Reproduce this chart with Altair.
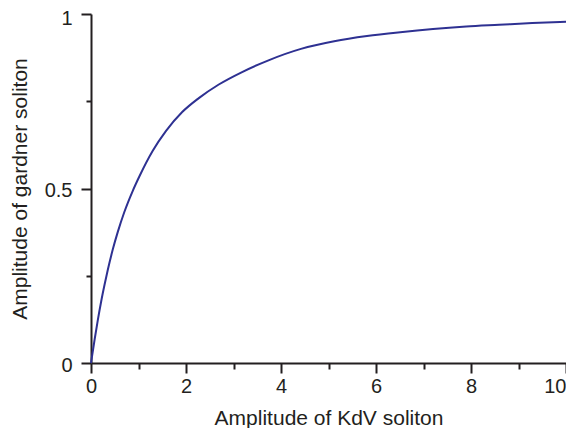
import altair as alt
import pandas as pd

kdv_amp = [0, 0.077, 0.146, 0.215, 0.285, 0.354, 0.458, 0.5625, 0.70, 0.875,
           1.02, 1.30, 1.58, 1.92, 2.27, 2.69, 3.17, 3.75, 4.42, 5.12, 5.81,
           6.51, 7.20, 7.90, 8.59, 9.29, 10]
gardner_amp = [0, 0.068, 0.125, 0.177, 0.224, 0.267, 0.325, 0.375, 0.432, 0.492,
               0.535, 0.608, 0.665, 0.719, 0.759, 0.798, 0.833, 0.868, 0.900,
               0.922, 0.937, 0.948, 0.957, 0.964, 0.969, 0.974, 0.978]
x_ticks = [0, 1, 2, 3, 4, 5, 6, 7, 8, 9, 10]
y_ticks = [0, 0.25, 0.5, 0.75, 1]

df = pd.DataFrame({"x": kdv_amp, "y": gardner_amp})

FONT = "Liberation Sans"
INK = "#231f20"

x_axis = alt.Axis(
    values=x_ticks,
    title="Amplitude of KdV soliton",
    grid=False,
    domainColor=INK,
    domainWidth=2,
    tickColor=INK,
    tickWidth=2,
    tickSize={"condition": {"test": "datum.value % 2 === 0", "value": 10}, "value": 6},
    labelExpr="datum.value % 2 === 0 ? format(datum.value, '~g') : ''",
    labelAlign={"condition": {"test": "datum.value === 10", "value": "right"}, "value": "center"},
    labelFont=FONT,
    labelFontSize=20,
    labelColor=INK,
    labelPadding=3,
    labelFlush=False,
    titleFont=FONT,
    titleFontSize=21,
    titleFontWeight="normal",
    titleColor=INK,
    titlePadding=11,
)

y_axis = alt.Axis(
    values=y_ticks,
    title="Amplitude of gardner soliton",
    grid=False,
    domainColor=INK,
    domainWidth=2,
    tickColor=INK,
    tickWidth=2,
    tickSize={"condition": {"test": "(datum.value * 4) % 2 === 0", "value": 10}, "value": 5},
    labelExpr="(datum.value * 4) % 2 === 0 ? format(datum.value, '~g') : ''",
    labelOffset={"condition": {"test": "datum.value === 1", "value": 4}, "value": 2},
    labelFont=FONT,
    labelFontSize=20,
    labelColor=INK,
    labelPadding=9,
    labelFlush=False,
    titleFont=FONT,
    titleFontSize=21,
    titleFontWeight="normal",
    titleColor=INK,
    titlePadding=14,
)

chart = (
    alt.Chart(df)
    .mark_line(color="#2e3192", strokeWidth=2, interpolate="monotone")
    .encode(
        x=alt.X("x:Q", scale=alt.Scale(domain=[0, 10], nice=False, zero=False), axis=x_axis),
        y=alt.Y("y:Q", scale=alt.Scale(domain=[0, 1], nice=False), axis=y_axis),
    )
    .properties(
        width=475,
        height=349,
        autosize=alt.AutoSizeParams(type="none"),
        padding={"left": 83, "top": 6, "right": 0, "bottom": 65},
    )
    .configure_view(stroke=None)
)

chart.save("out.html", embed_options={"renderer": "svg", "actions": False})
